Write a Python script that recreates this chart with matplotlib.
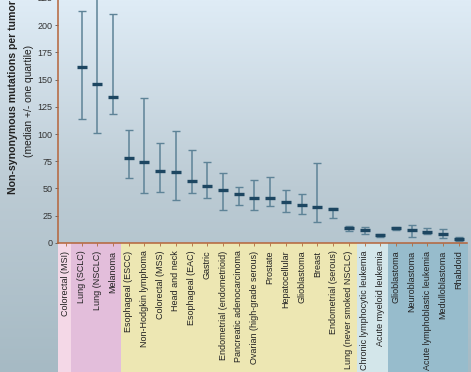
import numpy as np
import matplotlib
matplotlib.use("Agg")
import matplotlib.pyplot as plt
from matplotlib.colors import LinearSegmentedColormap
from matplotlib.patches import Rectangle

plt.rcParams['font.family'] = ['Liberation Sans', 'DejaVu Sans']

categories = [
    'Colorectal (MSI)', 'Lung (SCLC)', 'Lung (NSCLC)', 'Melanoma',
    'Esophageal (ESCC)', 'Non-Hodgkin lymphoma', 'Colorectal (MSS)',
    'Head and neck', 'Esophageal (EAC)', 'Gastric',
    'Endometrial (endometrioid)', 'Pancreatic adenocarcinoma',
    'Ovarian (high-grade serous)', 'Prostate', 'Hepatocellular',
    'Glioblastoma', 'Breast', 'Endometrial (serous)',
    'Lung (never smoked NSCLC)', 'Chronic lymphocytic leukemia',
    'Acute myeloid leukemia', 'Glioblastoma', 'Neuroblastoma',
    'Acute lymphoblastic leukemia', 'Medulloblastoma', 'Rhabdoid',
]
median = [760, 162, 146, 134, 78, 74, 66, 65, 57, 52, 49, 45, 41, 41, 38,
          35, 33, 31, 13.8, 12.2, 7.6, 13.5, 12, 10, 7.9, 4]
lower = [450, 114, 101, 118, 60, 46, 47, 39, 46, 41, 30, 34.4, 30, 34, 28,
         27, 19, 23, 11.3, 8, 5, 12.2, 5, 8.3, 4.6, 2]
upper = [1100, 213, 250, 210, 104, 133, 92, 103, 85, 74, 64, 51, 58, 61, 49,
         45, 73, 32.5, 15.3, 14.7, 8.6, 15, 16, 14, 12.6, 5.5]

# label-area colour groups: (start, end, colour)
groups = [(-0.5, 0.33, '#f4d8e7'), (0.33, 3.5, '#e3bedb'),
          (3.5, 18.5, '#ede7b3'), (18.5, 20.5, '#d3e6ea'),
          (20.5, 25.6, '#97bccc')]

fig = plt.figure(figsize=(4.71, 3.72), dpi=100)

# gradient background over the whole figure
bg = fig.add_axes([0, 0, 1, 1], zorder=-10)
cmap = LinearSegmentedColormap.from_list('bg', ['#a6bac4', '#bccbd4', '#dfecf6'])
bg.imshow(np.linspace(0, 1, 256).reshape(-1, 1), aspect='auto', cmap=cmap,
          origin='lower', extent=[0, 1, 0, 1])
bg.set_axis_off()

ax = fig.add_axes([0.123, 0.347, 0.868, 0.66])
ax.patch.set_alpha(0)
x = np.arange(len(categories))
med = np.array(median)
yerr = [med - np.array(lower), np.array(upper) - med]

ax.errorbar(x, med, yerr=yerr, fmt='none', ecolor='#5e8397', elinewidth=1.1,
            capsize=2.6, capthick=1.0)
ax.plot(x, med, linestyle='none', marker='_', markersize=6.5,
        markeredgewidth=2.4, color='#1d4661')

ax.set_xlim(-0.5, 25.5)
ax.set_ylim(0, 225.5)
ax.set_yticks(np.arange(0, 226, 25))
ax.tick_params(axis='y', labelsize=6.5, length=2.5, width=0.6,
               color='#555555', labelcolor='#333333', pad=1.5)
ax.set_xticks(x)
ax.set_xticklabels(categories, rotation=90, fontsize=6.5, color='#222222')
ax.tick_params(axis='x', length=2.5, width=0.6, color='#b06a3c', pad=3)
for lbl in ax.get_xticklabels():
    lbl.set_verticalalignment('top')

for s in ['top', 'right']:
    ax.spines[s].set_visible(False)
for s in ['left', 'bottom']:
    ax.spines[s].set_color('#b5643a')
    ax.spines[s].set_linewidth(1.1)

trans = ax.get_xaxis_transform()
for x0, x1, c in groups:
    ax.add_patch(Rectangle((x0, -0.6), x1 - x0, 0.6, transform=trans,
                           facecolor=c, edgecolor='none', clip_on=False,
                           zorder=-5))

fig.text(0.028, 1.0, 'Non-synonymous mutations per tumor', rotation=90,
         ha='center', va='top', fontsize=7.6, fontweight='bold',
         color='#222222')
fig.text(0.062, 0.73, '(median +/- one quartile)', rotation=90,
         ha='center', va='center', fontsize=7.4, color='#222222')

fig.savefig('out.png', dpi=100)
